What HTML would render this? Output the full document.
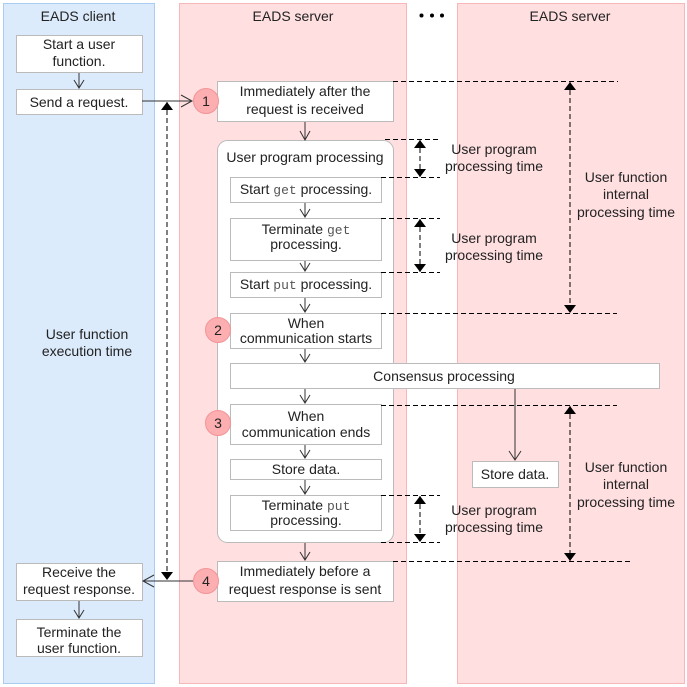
<!DOCTYPE html>
<html><head><meta charset="utf-8"><style>
html,body{margin:0;padding:0;background:#fff;}
svg{display:block;}
text{font-family:"Liberation Sans",sans-serif;font-size:14px;fill:#222;}
.m{font-family:"Liberation Mono",monospace;fill:#555;font-size:13px;}
</style></head><body>
<svg width="687" height="687" viewBox="0 0 687 687" xmlns="http://www.w3.org/2000/svg">
<defs>
<marker id="fa" markerWidth="8" markerHeight="12" refX="8" refY="6" orient="auto-start-reverse" markerUnits="userSpaceOnUse"><path d="M0,0 L8,6 L0,12 z" fill="#000"/></marker>
</defs>
<rect x="3.5" y="3.5" width="151" height="680" fill="#dcebfc" stroke="#a9cdf2"/>
<rect x="179.5" y="3.5" width="227" height="680" fill="#ffdfe0" stroke="#f7b6b8"/>
<rect x="457.5" y="3.5" width="227" height="680" fill="#ffdfe0" stroke="#f7b6b8"/>
<text x="78" y="21" text-anchor="middle">EADS client</text>
<text x="293" y="21" text-anchor="middle">EADS server</text>
<text x="570" y="21" text-anchor="middle">EADS server</text>
<circle cx="421.5" cy="15.5" r="2" fill="#000"/><circle cx="432" cy="15.5" r="2" fill="#000"/><circle cx="442" cy="15.5" r="2" fill="#000"/>

<g fill="#fff" stroke="#bbb">
<rect x="16.5" y="35.5" width="126" height="37"/>
<rect x="16.5" y="89.5" width="126" height="25"/>
<rect x="16.5" y="563.5" width="126" height="37"/>
<rect x="16.5" y="619.5" width="126" height="37"/>
<rect x="217.5" y="81.5" width="176" height="40"/>
<rect x="217.5" y="140.5" width="176" height="402" rx="10"/>
<rect x="230.5" y="177.5" width="151" height="25"/>
<rect x="230.5" y="218.5" width="151" height="42"/>
<rect x="230.5" y="272.5" width="151" height="25"/>
<rect x="230.5" y="313.5" width="151" height="35"/>
<rect x="230.5" y="363.5" width="429" height="25"/>
<rect x="230.5" y="404.5" width="151" height="40"/>
<rect x="230.5" y="459.5" width="151" height="20"/>
<rect x="230.5" y="495.5" width="151" height="35"/>
<rect x="217.5" y="561.5" width="176" height="40"/>
<rect x="472.5" y="461.5" width="86" height="26"/>
</g>
<g fill="#fcaeb0" stroke="#f29598">
<circle cx="206" cy="101" r="12.5"/>
<circle cx="218" cy="330" r="12.5"/>
<circle cx="218" cy="423" r="12.5"/>
<circle cx="206" cy="581" r="12.5"/>
</g>
<g text-anchor="middle">
<text x="206" y="106">1</text><text x="218" y="335">2</text><text x="218" y="428">3</text><text x="206" y="586">4</text>
</g>

<g text-anchor="middle">
<text x="79" y="49">Start a user</text><text x="79" y="66">function.</text>
<text x="79" y="107">Send a request.</text>
<text x="79" y="577">Receive the</text><text x="79" y="594">request response.</text>
<text x="79" y="637">Terminate the</text><text x="79" y="653">user function.</text>
<text x="87" y="339">User function</text><text x="87" y="356">execution time</text>
<text x="305" y="96">Immediately after the</text><text x="305" y="114">request is received</text>
<text x="305" y="162">User program processing</text>
<text x="306" y="194">Start <tspan class="m">get</tspan> processing.</text>
<text x="306" y="234">Terminate <tspan class="m">get</tspan></text><text x="306" y="249">processing.</text>
<text x="306" y="289">Start <tspan class="m">put</tspan> processing.</text>
<text x="306" y="328">When</text><text x="306" y="343">communication starts</text>
<text x="444" y="381">Consensus processing</text>
<text x="306" y="421">When</text><text x="306" y="437">communication ends</text>
<text x="306" y="474">Store data.</text>
<text x="306" y="510">Terminate <tspan class="m">put</tspan></text><text x="306" y="525">processing.</text>
<text x="305" y="576">Immediately before a</text><text x="305" y="594">request response is sent</text>
<text x="515" y="479">Store data.</text>
<text x="494" y="154">User program</text><text x="494" y="171">processing time</text>
<text x="494" y="243">User program</text><text x="494" y="260">processing time</text>
<text x="494" y="515">User program</text><text x="494" y="532">processing time</text>
<text x="626" y="182">User function</text><text x="626" y="199">internal</text><text x="626" y="217">processing time</text>
<text x="626" y="472">User function</text><text x="626" y="489">internal</text><text x="626" y="507">processing time</text>
</g>

<g stroke="#333" fill="none" stroke-width="1">
<line x1="142" y1="101" x2="192" y2="101"/><path d="M181,95 L192,101 L181,107"/>
<line x1="193" y1="581" x2="143" y2="581"/><path d="M154,575 L143,581 L154,587"/>
<line x1="79" y1="73" x2="79" y2="88"/><path d="M74,80 L79,88 L84,80"/>
<line x1="79" y1="601" x2="79" y2="618"/><path d="M74,610 L79,618 L84,610"/>
<line x1="515" y1="389" x2="515" y2="460"/><path d="M509,451 L515,460 L521,451"/>
<line x1="305" y1="122" x2="305" y2="140"/><path d="M300,131 L305,140 L310,131"/>
<line x1="305" y1="203" x2="305" y2="217"/><path d="M300,209 L305,217 L310,209"/>
<line x1="305" y1="261" x2="305" y2="271"/><path d="M300,263 L305,271 L310,263"/>
<line x1="305" y1="298" x2="305" y2="312"/><path d="M300,304 L305,312 L310,304"/>
<line x1="305" y1="349" x2="305" y2="362"/><path d="M300,354 L305,362 L310,354"/>
<line x1="305" y1="389" x2="305" y2="403"/><path d="M300,395 L305,403 L310,395"/>
<line x1="305" y1="445" x2="305" y2="458"/><path d="M300,450 L305,458 L310,450"/>
<line x1="305" y1="480" x2="305" y2="494"/><path d="M300,486 L305,494 L310,486"/>
<line x1="305" y1="543" x2="305" y2="560"/><path d="M300,552 L305,560 L310,552"/>
</g>

<g stroke="#000" stroke-dasharray="5,3" fill="none">
<line x1="393" y1="81.5" x2="618" y2="81.5"/>
<line x1="385" y1="139.5" x2="440" y2="139.5"/>
<line x1="381" y1="177.5" x2="440" y2="177.5"/>
<line x1="381" y1="218.5" x2="440" y2="218.5"/>
<line x1="381" y1="272.5" x2="440" y2="272.5"/>
<line x1="381" y1="313.5" x2="617" y2="313.5"/>
<line x1="381" y1="405.5" x2="617" y2="405.5"/>
<line x1="381" y1="495.5" x2="440" y2="495.5"/>
<line x1="381" y1="542.5" x2="440" y2="542.5"/>
<line x1="393" y1="561.5" x2="630" y2="561.5"/>
<line x1="570" y1="82" x2="570" y2="313" marker-start="url(#fa)" marker-end="url(#fa)"/>
<line x1="570" y1="406" x2="570" y2="561" marker-start="url(#fa)" marker-end="url(#fa)"/>
<line x1="420" y1="140" x2="420" y2="177" marker-start="url(#fa)" marker-end="url(#fa)"/>
<line x1="420" y1="219" x2="420" y2="272" marker-start="url(#fa)" marker-end="url(#fa)"/>
<line x1="420" y1="496" x2="420" y2="542" marker-start="url(#fa)" marker-end="url(#fa)"/>
<line x1="167" y1="102" x2="167" y2="580" marker-start="url(#fa)" marker-end="url(#fa)"/>
</g>
</svg>
</body></html>
